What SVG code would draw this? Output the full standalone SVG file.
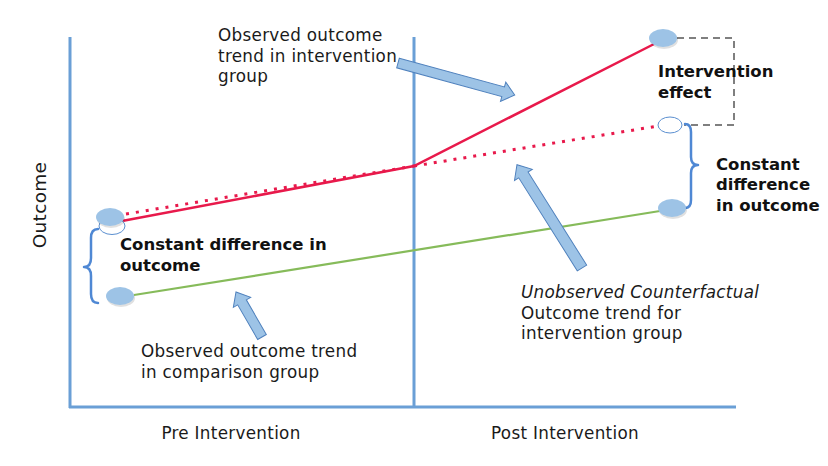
<svg xmlns="http://www.w3.org/2000/svg" width="828" height="466" viewBox="0 0 828 466">
<style>
.axis{stroke:#6a9fd6;stroke-width:3;fill:none}
.red{stroke:#e8194b;stroke-width:2.5;fill:none}
.dot{stroke:#e8194b;stroke-width:3;fill:none;stroke-dasharray:3 7}
.green{stroke:#86bb5a;stroke-width:2.2;fill:none}
.pt{fill:#9dc3e6}
.shadow{fill:#000;opacity:0.12}
.hollow{fill:#fff;stroke:#5b8fd0;stroke-width:1}
.brace{stroke:#4f88d4;stroke-width:2.5;fill:none;stroke-linecap:round;stroke-linejoin:round}
.dash{stroke:#555;stroke-width:1.5;fill:none;stroke-dasharray:7 5}
.barrow{fill:#9dc3e6;stroke:#4f81bd;stroke-width:1}
.t{font-family:"DejaVu Sans","Liberation Sans",sans-serif;font-size:16.8px;fill:#1a1a1a;letter-spacing:0.3px}
.b{font-family:"DejaVu Sans","Liberation Sans",sans-serif;font-size:16.5px;font-weight:bold;fill:#111}
.i{font-style:italic}
</style>
<rect width="828" height="466" fill="#fff"/>
<g id="axes">
<line class="axis" x1="70" y1="37" x2="70" y2="408"/>
<line class="axis" x1="69" y1="407" x2="736" y2="407"/>
<line class="axis" x1="414" y1="37" x2="414" y2="407"/>
<text class="t" x="231" y="439" text-anchor="middle">Pre Intervention</text>
<text class="t" x="565" y="439" text-anchor="middle">Post Intervention</text>
<text class="t" x="0" y="0" text-anchor="middle" style="font-size:18.5px" transform="translate(46,205) rotate(-90)">Outcome</text>
</g>
<g id="connectors">
<polyline class="red" points="122,221 414,166 658,42"/>
<line class="dot" x1="126" y1="214" x2="414" y2="166"/>
<line class="dot" x1="414" y1="166" x2="658" y2="126"/>
<line class="green" x1="134" y1="295" x2="660" y2="211"/>
<path class="dash" d="M677,38 H734 V125 H684"/>
<path class="brace" d="M98,229 Q91,229 91,238 L91,258 Q91,267 84,267 Q91,267 91,276 L91,294 Q91,303 98,303"/>
<path class="brace" d="M685,124 Q691,124 691,132 L691,157 Q691,165 698,165 Q691,165 691,173 L691,200 Q691,208 685,208"/>
</g>
<g id="point-pre-intervention">
<ellipse class="hollow" cx="112" cy="226" rx="13" ry="8.5"/>
<ellipse class="shadow" cx="111" cy="219" rx="14" ry="9"/>
<ellipse class="pt" cx="110" cy="217" rx="14" ry="9"/>
</g>
<g id="point-pre-comparison">
<ellipse class="shadow" cx="121" cy="298" rx="14" ry="9"/>
<ellipse class="pt" cx="120" cy="296" rx="14" ry="9"/>
</g>
<g id="point-post-intervention">
<ellipse class="shadow" cx="664" cy="40" rx="14" ry="9"/>
<ellipse class="pt" cx="663" cy="38" rx="14" ry="9"/>
</g>
<g id="point-post-counterfactual">
<ellipse class="hollow" cx="670" cy="125" rx="12" ry="8"/>
</g>
<g id="point-post-comparison">
<ellipse class="shadow" cx="673" cy="210" rx="14" ry="9"/>
<ellipse class="pt" cx="672" cy="208" rx="14" ry="9"/>
</g>
<g id="label-intervention-effect">
<text class="b" x="658" y="77">Intervention</text>
<text class="b" x="658" y="98">effect</text>
</g>
<g id="label-constant-right">
<text class="b" x="716" y="170">Constant</text>
<text class="b" x="716" y="190">difference</text>
<text class="b" x="716" y="211">in outcome</text>
</g>
<g id="label-constant-left">
<text class="b" x="120" y="250">Constant difference in</text>
<text class="b" x="120" y="271">outcome</text>
</g>
<g id="label-observed-intervention">
<text class="t" x="218" y="41">Observed outcome</text>
<text class="t" x="218" y="62">trend in intervention</text>
<text class="t" x="218" y="82">group</text>
<polygon class="barrow" transform="translate(398,63) rotate(15.3)" points="0,-5 109,-5 109,-10 121,0 109,10 109,5 0,5"/>
</g>
<g id="label-counterfactual">
<text class="t i" x="521" y="298">Unobserved Counterfactual</text>
<text class="t" x="521" y="319">Outcome trend for</text>
<text class="t" x="521" y="339">intervention group</text>
<polygon class="barrow" transform="translate(582,268) rotate(-122.2)" points="0,-5.5 110,-5.5 110,-10.5 122,0 110,10.5 110,5.5 0,5.5"/>
</g>
<g id="label-observed-comparison">
<text class="t" x="141" y="357">Observed outcome trend</text>
<text class="t" x="141" y="378">in comparison group</text>
<polygon class="barrow" transform="translate(262,337) rotate(-120)" points="0,-5 40,-5 40,-10 52,0 40,10 40,5 0,5"/>
</g>
</svg>
